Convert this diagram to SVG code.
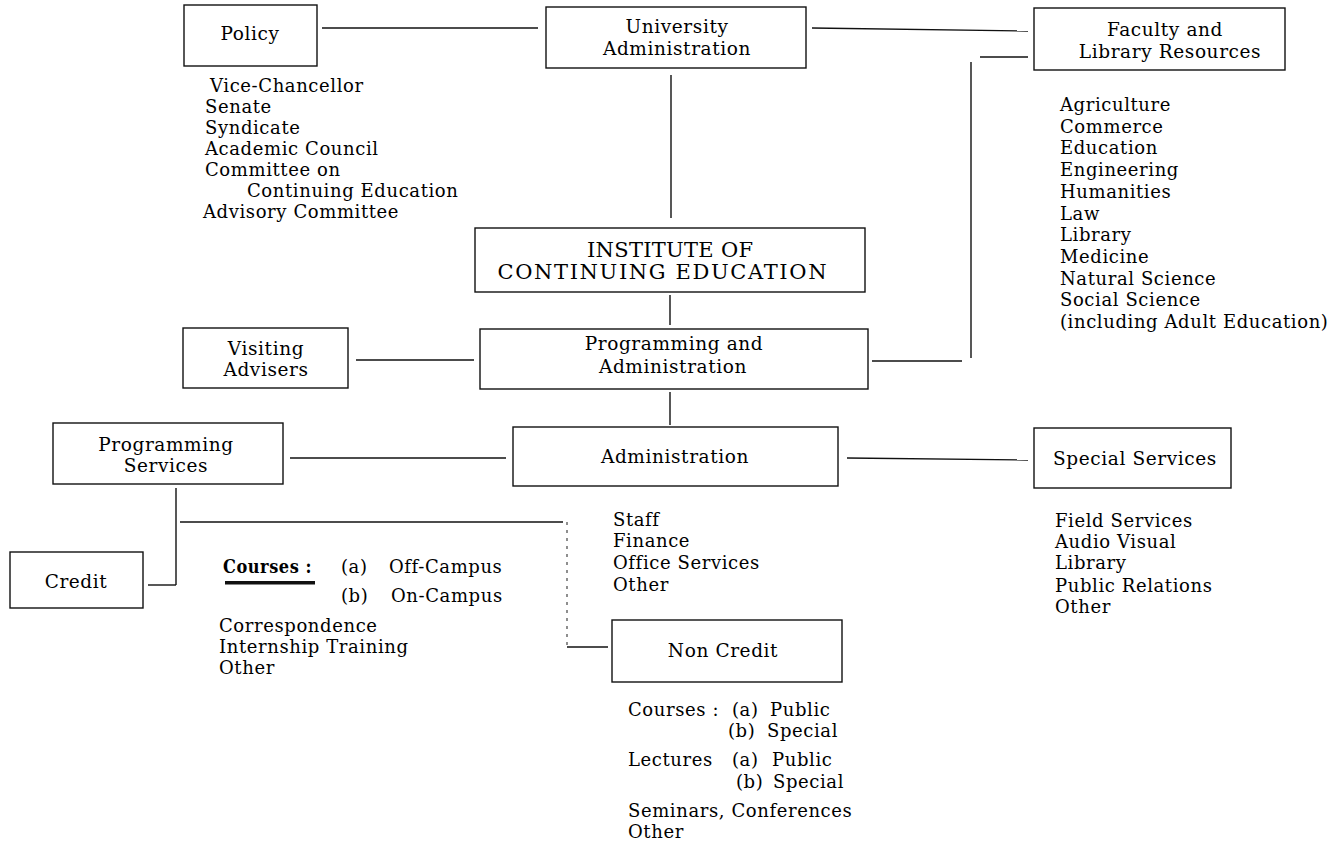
<svg xmlns="http://www.w3.org/2000/svg" width="1339" height="843" viewBox="0 0 1339 843">
<style>
.box{fill:#fff;stroke:#111;stroke-width:1.4}
.ln{fill:none;stroke:#111;stroke-width:1.4}
.dash{fill:none;stroke:#333;stroke-width:1.1;stroke-dasharray:3 5}
.lbl{font-family:"DejaVu Serif","Liberation Serif",serif;font-size:18.5px;letter-spacing:0.6px;fill:#000;text-anchor:middle}
.big{font-family:"DejaVu Serif","Liberation Serif",serif;font-size:21px;fill:#000;text-anchor:middle}
.lst{font-family:"DejaVu Serif","Liberation Serif",serif;font-size:18px;letter-spacing:0.6px;fill:#000}
</style>
<rect width="1339" height="843" fill="#fff"/>
<g id="connectors">
<line class="ln" x1="322" y1="28" x2="538" y2="28"/>
<polyline class="ln" points="812,28 1028,31"/>
<line class="ln" x1="671" y1="75" x2="671" y2="218"/>
<line class="ln" x1="670" y1="295" x2="670" y2="325"/>
<line class="ln" x1="356" y1="360" x2="474" y2="360"/>
<polyline class="ln" points="872,361 962,361"/>
<polyline class="ln" points="971,358 971,62"/>
<polyline class="ln" points="980,57 1028,57"/>
<line class="ln" x1="670" y1="392" x2="670" y2="425"/>
<line class="ln" x1="290" y1="458" x2="506" y2="458"/>
<polyline class="ln" points="847,458 1028,460"/>
<line class="ln" x1="176" y1="488" x2="176" y2="585"/>
<line class="ln" x1="148" y1="585" x2="176" y2="585"/>
<line class="ln" x1="180" y1="522" x2="563" y2="522"/>
<line class="dash" x1="567" y1="522" x2="567" y2="645"/>
<line class="ln" x1="567" y1="647" x2="608" y2="647"/>
</g>
<g id="policy">
<rect class="box" x="184" y="5" width="133" height="61"/>
<text class="lbl" x="250" y="40">Policy</text>
<text class="lst" x="210" y="92">Vice-Chancellor</text>
<text class="lst" x="205" y="113">Senate</text>
<text class="lst" x="205" y="134">Syndicate</text>
<text class="lst" x="205" y="155">Academic Council</text>
<text class="lst" x="205" y="176">Committee on</text>
<text class="lst" x="247" y="197">Continuing Education</text>
<text class="lst" x="203" y="218">Advisory Committee</text>
</g>
<g id="university-administration">
<rect class="box" x="546" y="7" width="260" height="61"/>
<text class="lbl" x="677" y="33">University</text>
<text class="lbl" x="677" y="55">Administration</text>
</g>
<g id="faculty-library">
<rect class="box" x="1034" y="8" width="251" height="62"/>
<text class="lbl" x="1165" y="36">Faculty  and</text>
<text class="lbl" x="1170" y="58">Library Resources</text>
<text class="lst" x="1060" y="111">Agriculture</text>
<text class="lst" x="1060" y="132.7">Commerce</text>
<text class="lst" x="1060" y="154.4">Education</text>
<text class="lst" x="1060" y="176.1">Engineering</text>
<text class="lst" x="1060" y="197.8">Humanities</text>
<text class="lst" x="1060" y="219.5">Law</text>
<text class="lst" x="1060" y="241.2">Library</text>
<text class="lst" x="1060" y="262.9">Medicine</text>
<text class="lst" x="1060" y="284.6">Natural Science</text>
<text class="lst" x="1060" y="306.3">Social Science</text>
<text class="lst" x="1060" y="328">(including Adult Education)</text>
</g>
<g id="institute">
<rect class="box" x="475" y="228" width="390" height="64"/>
<text class="big" x="670" y="257" textLength="166" lengthAdjust="spacing">INSTITUTE OF</text>
<text class="big" x="662" y="279" textLength="329" lengthAdjust="spacing">CONTINUING EDUCATION</text>
</g>
<g id="visiting-advisers">
<rect class="box" x="183" y="328" width="165" height="60"/>
<text class="lbl" x="266" y="355">Visiting</text>
<text class="lbl" x="266" y="376">Advisers</text>
</g>
<g id="programming-administration">
<rect class="box" x="480" y="329" width="388" height="60"/>
<text class="lbl" x="674" y="350">Programming and</text>
<text class="lbl" x="673" y="373">Administration</text>
</g>
<g id="programming-services">
<rect class="box" x="53" y="423" width="230" height="61"/>
<text class="lbl" x="166" y="451">Programming</text>
<text class="lbl" x="166" y="472">Services</text>
</g>
<g id="administration">
<rect class="box" x="513" y="427" width="325" height="59"/>
<text class="lbl" x="675" y="463">Administration</text>
<text class="lst" x="613" y="526">Staff</text>
<text class="lst" x="613" y="547">Finance</text>
<text class="lst" x="613" y="569">Office Services</text>
<text class="lst" x="613" y="591">Other</text>
</g>
<g id="special-services">
<rect class="box" x="1034" y="428" width="197" height="60"/>
<text class="lbl" x="1135" y="465">Special  Services</text>
<text class="lst" x="1055" y="527">Field Services</text>
<text class="lst" x="1055" y="548">Audio Visual</text>
<text class="lst" x="1055" y="569">Library</text>
<text class="lst" x="1055" y="592">Public Relations</text>
<text class="lst" x="1055" y="613">Other</text>
</g>
<g id="credit">
<rect class="box" x="10" y="552" width="133" height="56"/>
<text class="lbl" x="76" y="588">Credit</text>
<text class="lst" x="223" y="573" font-weight="bold" textLength="89" lengthAdjust="spacingAndGlyphs">Courses :</text>
<rect x="225" y="581" width="90" height="3.5" fill="#111"/>
<text class="lst" x="341" y="573">(a)</text>
<text class="lst" x="389" y="573">Off-Campus</text>
<text class="lst" x="341" y="602">(b)</text>
<text class="lst" x="391" y="602">On-Campus</text>
<text class="lst" x="219" y="632">Correspondence</text>
<text class="lst" x="219" y="653">Internship Training</text>
<text class="lst" x="219" y="674">Other</text>
</g>
<g id="non-credit">
<rect class="box" x="612" y="620" width="230" height="62"/>
<text class="lbl" x="723" y="657">Non Credit</text>
<text class="lst" x="628" y="716">Courses :</text>
<text class="lst" x="732" y="716">(a)</text>
<text class="lst" x="770" y="716">Public</text>
<text class="lst" x="728" y="737">(b)</text>
<text class="lst" x="767" y="737">Special</text>
<text class="lst" x="628" y="766">Lectures</text>
<text class="lst" x="732" y="766">(a)</text>
<text class="lst" x="772" y="766">Public</text>
<text class="lst" x="736" y="788">(b)</text>
<text class="lst" x="773" y="788">Special</text>
<text class="lst" x="628" y="817">Seminars, Conferences</text>
<text class="lst" x="628" y="838">Other</text>
</g>
</svg>
